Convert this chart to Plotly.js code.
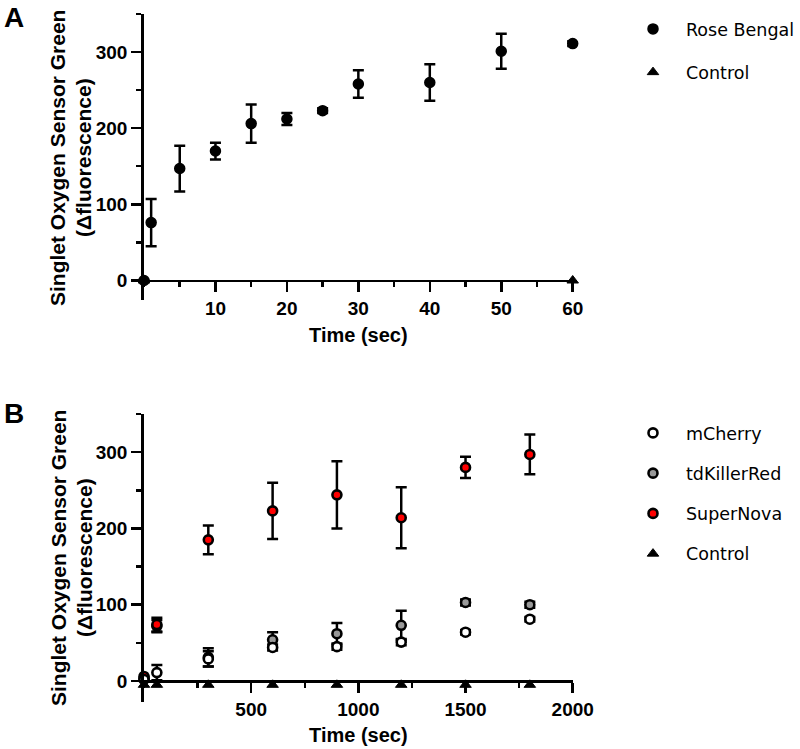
<!DOCTYPE html>
<html><head><meta charset="utf-8">
<script src="https://cdn.plot.ly/plotly-3.0.1.min.js"></script>
<style>html,body{margin:0;padding:0;background:#fff}#chart{width:800px;height:749px}</style>
</head><body><div id="chart"></div>
<script>
// Panel A data
const timeA = [0, 1, 5, 10, 15, 20, 25, 30, 40, 50, 60];
const roseBengal = [0, 76, 147, 170, 206, 212, 223, 258, 260, 301, 311];
const roseBengalErr = [0, 31, 30, 11, 25, 8, 3, 18, 24, 23, 3];
const controlTimeA = [0, 60];
const controlA = [0, 0];

// Panel B data
const timeB = [0, 60, 300, 600, 900, 1200, 1500, 1800];
const mCherry = [2, 11, 29, 44, 45, 51, 64, 81];
const mCherryErr = [0, 10, 10, 4, 4, 4, 3, 3];
const tdKillerRed = [3, 72, 31, 54, 62, 73, 103, 100];
const tdKillerRedErr = [0, 8, 12, 10, 14, 19, 4, 4];
const superNova = [6, 74, 185, 223, 244, 214, 280, 297];
const superNovaErr = [0, 9, 19, 37, 44, 40, 14, 26];
const controlB = [-5, -5, -5, -5, -5, -5, -5, -5];

const xTicksA = [10, 20, 30, 40, 50, 60];
const xTicksB = [500, 1000, 1500, 2000];
const yTicks = [0, 100, 200, 300];
const yTitleLine1 = 'Singlet Oxygen Sensor Green';
const yTitleLine2 = '(Δfluorescence)';
const xTitle = 'Time (sec)';

const boldFam = 'Liberation Sans, Arial, sans-serif';
const tickFont = {family: boldFam, size: 19, color: '#000', weight: 'bold'};
const xTitleFont = {family: boldFam, size: 20, color: '#000', weight: 'bold'};
const yTitleFont = {family: boldFam, size: 21, color: '#000', weight: 'bold'};
const legendFont = {family: 'DejaVu Sans, sans-serif', size: 17.5, color: '#000'};

function err(arr) {
  return {type: 'data', array: arr, visible: true, color: '#000', thickness: 2.5, width: 5.5};
}
function circle(fill, size, lw) {
  return {symbol: 'circle', size: size, color: fill, line: {color: '#000', width: lw}};
}
const tri = {symbol: 'triangle-up', size: 10, color: '#000', line: {color: '#000', width: 1}};

const traces = [
  {x: controlTimeA, y: controlA, type: 'scatter', mode: 'markers', name: 'Control',
   marker: tri, xaxis: 'x', yaxis: 'y', legend: 'legend', legendgroup: 'a2', legendrank: 2, cliponaxis: false},
  {x: timeA, y: roseBengal, type: 'scatter', mode: 'markers', name: 'Rose Bengal',
   marker: circle('#000', 10, 1.5), error_y: err(roseBengalErr), xaxis: 'x', yaxis: 'y',
   legend: 'legend', legendgroup: 'a1', legendrank: 1, cliponaxis: false},

  {x: timeB, y: controlB, type: 'scatter', mode: 'markers', name: 'Control',
   marker: tri, xaxis: 'x2', yaxis: 'y2', legend: 'legend2', legendgroup: 'b4', legendrank: 4, cliponaxis: false},
  {x: timeB, y: tdKillerRed, type: 'scatter', mode: 'markers', name: 'tdKillerRed',
   marker: circle('#999999', 9, 2.6), error_y: err(tdKillerRedErr), xaxis: 'x2', yaxis: 'y2',
   legend: 'legend2', legendgroup: 'b2', legendrank: 2, cliponaxis: false},
  {x: timeB, y: superNova, type: 'scatter', mode: 'markers', name: 'SuperNova',
   marker: circle('#ff0000', 9, 2.6), error_y: err(superNovaErr), xaxis: 'x2', yaxis: 'y2',
   legend: 'legend2', legendgroup: 'b3', legendrank: 3, cliponaxis: false},
  {x: timeB, y: mCherry, type: 'scatter', mode: 'markers', name: 'mCherry',
   marker: circle('#ffffff', 9, 2.6), error_y: err(mCherryErr), xaxis: 'x2', yaxis: 'y2',
   legend: 'legend2', legendgroup: 'b1', legendrank: 1, cliponaxis: false}
];

const W = 800, H = 749;
const px2x = p => p / W;
const px2y = p => 1 - p / H;

function xAxis(domain, pos, range, tickvals, minorD) {
  return {
    domain: domain, anchor: 'free', position: pos, range: range,
    tickmode: 'array', tickvals: tickvals, ticks: 'outside', ticklen: 10, tickwidth: 2.5, tickcolor: '#000',
    minor: {tickmode: 'linear', tick0: 0, dtick: minorD, ticks: 'outside', ticklen: 5, tickwidth: 2.5, tickcolor: '#000', showgrid: false},
    showline: true, linewidth: 2.8, linecolor: '#000', showgrid: false, zeroline: false,
    tickfont: tickFont, title: {text: xTitle, font: xTitleFont, standoff: 9}, fixedrange: true
  };
}
function yAxis(domain, range, anchorX) {
  return {
    domain: domain, anchor: anchorX, range: range,
    tickmode: 'array', tickvals: yTicks, ticks: 'outside', ticklen: 10, tickwidth: 2.5, tickcolor: '#000',
    minor: {tickmode: 'linear', tick0: 0, dtick: 50, ticks: 'outside', ticklen: 5, tickwidth: 2.5, tickcolor: '#000', showgrid: false},
    showline: true, linewidth: 2.8, linecolor: '#000', showgrid: false, zeroline: false,
    tickfont: tickFont, fixedrange: true
  };
}

function yTitleAnn(text, xPx, yCenterPx) {
  return {text: text, xref: 'paper', yref: 'paper', x: px2x(xPx), y: px2y(yCenterPx),
          xanchor: 'center', yanchor: 'middle', textangle: -90, showarrow: false, font: yTitleFont};
}

const xDom = [px2x(144), px2x(572.7)];
const panelFont = {family: boldFam, size: 28, color: '#000', weight: 'bold'};
const layout = {
  width: W, height: H, margin: {l: 0, r: 0, t: 0, b: 0},
  paper_bgcolor: '#fff', plot_bgcolor: 'rgba(0,0,0,0)', showlegend: true,
  xaxis: xAxis(xDom, px2y(280.5), [0, 60], xTicksA, 5),
  yaxis: yAxis([px2y(300), px2y(13.9)], [-25.6, 350], 'x'),
  xaxis2: xAxis(xDom, px2y(681), [0, 2000], xTicksB, 250),
  yaxis2: yAxis([px2y(701.6), px2y(414)], [-27, 350], 'x2'),
  legend: {x: px2x(620), y: px2y(11), xanchor: 'left', yanchor: 'top', font: legendFont, itemwidth: 56,
           traceorder: 'grouped', tracegroupgap: 17.5, bgcolor: 'rgba(0,0,0,0)', borderwidth: 0},
  legend2: {x: px2x(620), y: px2y(415), xanchor: 'left', yanchor: 'top', font: legendFont, itemwidth: 56,
            traceorder: 'grouped', tracegroupgap: 14.5, bgcolor: 'rgba(0,0,0,0)', borderwidth: 0},
  annotations: [
    {text: 'A', xref: 'paper', yref: 'paper', x: px2x(2), y: px2y(0), xanchor: 'left', yanchor: 'top',
     showarrow: false, font: panelFont},
    {text: 'B', xref: 'paper', yref: 'paper', x: px2x(2), y: px2y(396), xanchor: 'left', yanchor: 'top',
     showarrow: false, font: panelFont},
    yTitleAnn(yTitleLine1, 58, 158),
    yTitleAnn(yTitleLine2, 84, 158),
    yTitleAnn(yTitleLine1, 58, 558),
    yTitleAnn(yTitleLine2, 84, 558)
  ]
};

Plotly.newPlot('chart', traces, layout, {displayModeBar: false, staticPlot: true});
</script></body></html>
